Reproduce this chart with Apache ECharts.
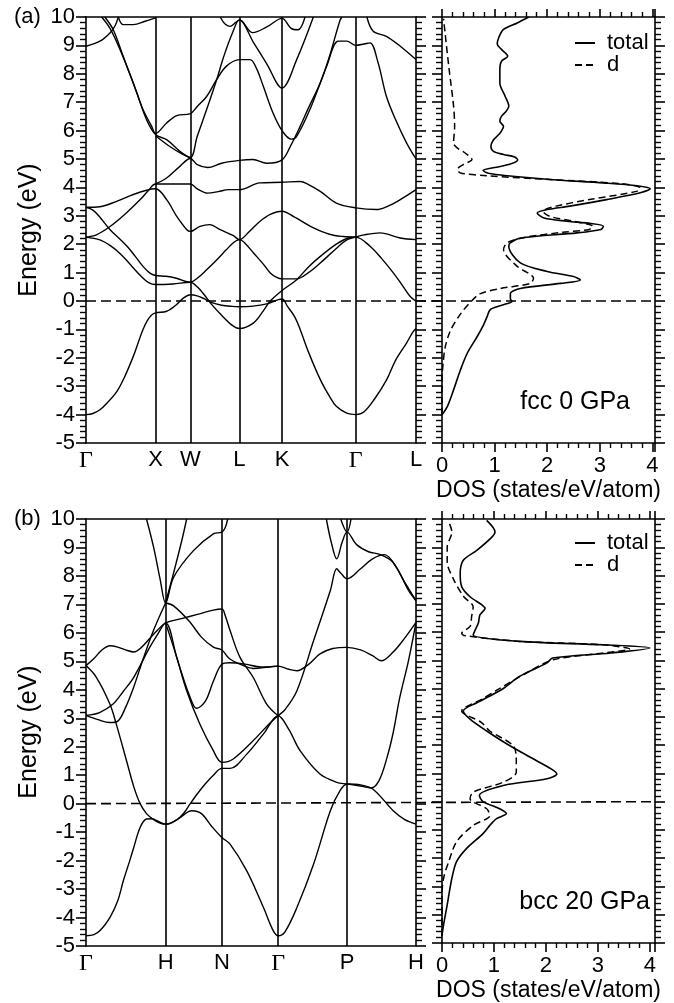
<!DOCTYPE html>
<html><head><meta charset="utf-8">
<script src="https://cdn.jsdelivr.net/npm/echarts@6/dist/echarts.min.js"></script>
<style>html,body{margin:0;padding:0;background:#fff}#c{width:674px;height:1003px}</style>
</head><body><div id="c"></div>
<script>
// ---------------- DATA ----------------
const fccTicks = [0, 1, 1.5, 2.2071, 2.8195, 3.8802, 4.7462];
const fccTickLabels = ['Γ','X','W','L','K','Γ','L'];
const bccTicks = [0, 1, 1.7071, 2.4142, 3.2802, 4.1463];
const bccTickLabels = ['Γ','H','N','Γ','P','H'];
const energyTicks = [-5,-4,-3,-2,-1,0,1,2,3,4,5,6,7,8,9,10];
const dosTicks = [0,1,2,3,4];

// fcc bands: [k, E]
const fccBand1 = [[0,-4.0],[0.1,-3.96],[0.2,-3.83],[0.3,-3.6],[0.44,-3.2],[0.55,-2.7],[0.68,-1.95],[0.76,-1.4],[0.82,-1.0],[0.88,-0.7],[0.94,-0.5],[1,-0.42],[1.16,-0.36],[1.3,-0.13],[1.4,0.1],[1.5,0.22],[1.6,0.18],[1.7,0.08],[1.8,-0.05],[1.95,-0.15],[2.1,-0.19],[2.2071,-0.2],[2.4,-0.18],[2.6,-0.1],[2.8195,0.07],[2.9,-0.2],[3.0,-0.55],[3.08,-1.0],[3.2,-1.8],[3.37,-2.77],[3.5,-3.35],[3.6,-3.71],[3.75,-3.95],[3.8802,-4.0],[4.0,-3.9],[4.15,-3.45],[4.325,-2.77],[4.45,-2.1],[4.61,-1.48],[4.7,-1.1],[4.7462,-0.97]];
const fccBand2 = [[0,2.25],[0.2,2.15],[0.35,1.95],[0.5,1.65],[0.65,1.25],[0.8,0.85],[0.9,0.65],[1,0.58],[1.25,0.6],[1.5,0.66],[1.6,0.5],[1.7,0.22],[1.8,-0.1],[1.95,-0.5],[2.1,-0.85],[2.2071,-0.97],[2.41,-0.77],[2.55,-0.35],[2.65,0.0],[2.8195,0.37],[3.03,0.75],[3.2,1.2],[3.37,1.57],[3.6,2.0],[3.75,2.2],[3.8802,2.25],[4.085,1.93],[4.25,1.5],[4.42,0.99],[4.55,0.55],[4.66,0.17],[4.7462,-0.01]];
const fccBand3 = [[0,3.3],[0.1,3.2],[0.2,2.95],[0.35,2.5],[0.5,2.15],[0.6,1.9],[0.7,1.6],[0.82,1.22],[0.92,0.98],[1,0.9],[1.15,0.87],[1.3,0.8],[1.5,0.66],[1.6,0.8],[1.735,1.1],[1.9,1.5],[2.02,1.81],[2.12,2.05],[2.2071,2.16],[2.3,2.0],[2.41,1.69],[2.55,1.3],[2.65,0.99],[2.75,0.82],[2.8195,0.78],[3.03,0.78],[3.2,1.0],[3.37,1.34],[3.6,1.85],[3.75,2.15],[3.8802,2.25],[4.0,2.33],[4.23,2.4],[4.52,2.22],[4.7462,2.16]];
const fccBand4 = [[0,2.25],[0.15,2.33],[0.35,2.63],[0.58,3.1],[0.78,3.57],[0.9,3.9],[1,4.12],[1.25,4.12],[1.5,4.12],[1.6,3.95],[1.75,3.8],[1.9,3.85],[2.05,3.92],[2.2071,3.92],[2.5,4.16],[2.8195,4.18],[3.08,4.21],[3.2,4.1],[3.37,3.86],[3.6,3.45],[3.8802,3.28],[4.18,3.22],[4.35,3.35],[4.52,3.57],[4.7462,3.92]];
const fccBand5 = [[0,3.3],[0.2,3.32],[0.44,3.51],[0.68,3.75],[0.87,3.9],[1,3.95],[1.16,3.57],[1.305,2.98],[1.45,2.51],[1.5,2.45],[1.64,2.63],[1.78,2.69],[1.93,2.51],[2.12,2.3],[2.2071,2.16],[2.35,2.45],[2.5,2.8],[2.65,3.05],[2.8195,3.16],[3.0,2.95],[3.25,2.6],[3.5,2.35],[3.7,2.27],[3.8802,2.25]];
const fccBand6 = [[1,4.12],[1.16,4.33],[1.35,4.74],[1.5,5.02],[1.6,4.8],[1.75,4.7],[1.95,4.85],[2.2071,4.95],[2.4,4.98],[2.6,4.85],[2.8195,4.97],[2.95,5.5],[3.08,6.15],[3.2,6.8],[3.37,7.68],[3.5,8.6],[3.65,9.86],[3.68,10]];
const fccBand7 = [[0.225,10],[0.345,9.6],[0.49,8.85],[0.68,7.68],[0.82,6.74],[0.945,6.15],[1,5.9],[1.16,6.27],[1.305,6.53],[1.5,6.6],[1.6,6.85],[1.735,7.2],[1.88,7.8],[2.02,8.27],[2.2071,8.5],[2.36,8.5],[2.45,8.2],[2.55,7.56],[2.69,6.62],[2.8195,6.0],[2.95,5.7],[3.03,5.8],[3.22,6.74],[3.46,8.26],[3.63,9.15],[3.75,9.15],[3.8802,9.0],[4.0,9.05],[4.085,9.09],[4.2,8.4],[4.32,7.21],[4.45,6.4],[4.61,5.57],[4.7462,5.0]];
const fccBand8 = [[0.27,10],[0.39,9.56],[0.535,8.62],[0.73,7.33],[0.87,6.39],[1,5.86],[1.16,5.68],[1.35,5.27],[1.5,5.05],[1.6,5.8],[1.735,6.74],[1.88,7.8],[1.98,8.6],[2.1,9.4],[2.2071,9.9],[2.41,9.1],[2.6,8.35],[2.8195,7.5],[3.03,8.5],[3.27,10]];
const fccBand9 = [[1,5.82],[1.2,5.45],[1.38,5.18],[1.5,5.05]];
const fccBand10 = [[0,8.97],[0.2,9.15],[0.345,9.44],[0.42,9.7],[0.465,10]];
const fccBand11 = [[0.465,10],[0.535,9.73],[0.68,9.73],[0.85,9.85],[1,9.97]];
const fccBand12 = [[1.93,10],[2.0,9.75],[2.07,9.67],[2.15,9.8],[2.2071,9.9],[2.4,9.45],[2.6,9.65],[2.8195,9.95],[2.95,9.6],[3.05,9.55],[3.15,10]];
const fccBand13 = [[4.04,10],[4.13,9.5],[4.32,9.32],[4.52,8.97],[4.7462,8.5]];

// bcc bands: [k, E]
const bccBand1 = [[0,-4.64],[0.1,-4.6],[0.18,-4.45],[0.3,-4.0],[0.4,-3.4],[0.47,-2.7],[0.55,-2.0],[0.6,-1.54],[0.68,-0.84],[0.76,-0.54],[0.83,-0.53],[0.89,-0.6],[1.0,-0.72],[1.15,-0.55],[1.33,-0.25],[1.45,-0.35],[1.58,-0.8],[1.7071,-1.19],[1.81,-1.42],[2.02,-2.36],[2.23,-3.65],[2.35,-4.45],[2.4142,-4.64],[2.5,-4.5],[2.65,-3.65],[2.86,-2.12],[3.07,-0.25],[3.19,0.45],[3.2802,0.69],[3.45,0.66],[3.61,0.5],[3.86,-0.25],[4.0,-0.55],[4.1463,-0.72]];
const bccBand2 = [[0,4.85],[0.13,4.44],[0.3,3.5],[0.385,2.75],[0.51,1.5],[0.6,0.6],[0.68,0.0],[0.76,-0.35],[0.85,-0.56],[0.93,-0.68],[1.0,-0.72],[1.07,-0.68],[1.15,-0.55],[1.23,-0.33],[1.31,0.0],[1.4,0.35],[1.5,0.7],[1.6,1.0],[1.7071,1.24],[1.81,1.24],[2.02,1.74],[2.23,2.45],[2.4142,3.09],[2.55,2.6],[2.69,1.86],[2.94,1.04],[3.15,0.75],[3.2802,0.69],[3.45,0.62],[3.58,0.55],[3.68,0.8],[3.78,1.6],[3.86,2.5],[3.94,3.7],[4.05,5.0],[4.1463,6.37]];
const bccBand3 = [[0,3.1],[0.15,2.95],[0.3,2.85],[0.4,2.9],[0.5,3.4],[0.6,4.1],[0.72,5.1],[0.85,6.1],[1.0,7.05]];
const bccBand4 = [[0,3.1],[0.17,3.2],[0.34,3.5],[0.47,3.95],[0.6,4.44],[0.8,5.49],[0.9,5.95],[1.0,6.35],[1.14,5.14],[1.265,3.97],[1.43,2.8],[1.6,1.86],[1.7071,1.45],[1.85,1.57],[2.1,2.21],[2.3,2.8],[2.4142,3.09],[2.5,3.3],[2.65,3.97],[2.86,5.73],[3.07,7.49],[3.15,8.25],[3.2,8.1],[3.2802,7.9],[3.45,8.25],[3.6,8.6],[3.75,8.75],[3.9,8.3],[4.05,7.5],[4.1463,7.13]];
const bccBand5 = [[0,4.85],[0.1,5.1],[0.2,5.4],[0.3,5.55],[0.4,5.5],[0.52,5.38],[0.6,5.33],[0.7,5.5],[0.8,5.8],[0.9,6.1],[1.0,6.35],[1.2,6.5],[1.4,6.65],[1.6,6.8],[1.7071,6.84],[1.75,6.6],[1.81,6.08],[1.935,5.14],[2.1,4.44],[2.27,3.5],[2.4142,3.09]];
const bccBand6 = [[1.0,7.05],[1.1,6.95],[1.3,6.4],[1.45,5.85],[1.6,5.5],[1.7071,5.4],[1.8,5.1],[1.935,4.9],[2.1,4.75],[2.3,4.8],[2.4142,4.83],[2.55,4.72],[2.65,4.67],[2.8,4.9],[2.94,5.26],[3.1,5.45],[3.2802,5.49],[3.45,5.4],[3.6,5.2],[3.71,5.02],[3.85,5.3],[4.0,5.8],[4.1463,6.37]];
const bccBand7 = [[1.0,6.35],[1.1,5.5],[1.2,4.6],[1.3,3.8],[1.39,3.35],[1.5,3.6],[1.6,4.3],[1.7071,4.9],[1.8,4.95],[2.0,4.9],[2.2,4.8],[2.4142,4.83]];
const bccBand8 = [[0.76,10],[0.85,9.0],[0.93,7.9],[1.0,7.05],[1.1,7.95],[1.35,8.89],[1.6,9.48],[1.7071,9.54],[1.75,9.7],[1.78,10]];
const bccBand9 = [[1.0,7.05],[1.1,8.1],[1.2,9.2],[1.265,10]];
const bccBand10 = [[3.02,10],[3.08,9.2],[3.15,8.6],[3.22,9.2],[3.2802,9.54],[3.4,9.1],[3.55,8.85],[3.7,8.75],[3.85,8.5],[4.0,7.8],[4.1463,7.13]];
const bccBand11 = [[3.2,10],[3.2802,9.54],[3.33,10]];

// DOS: [states/eV/atom, E]
const fccDosTotal = [[0,-4.01],[0.10,-3.72],[0.22,-3.13],[0.35,-2.43],[0.48,-1.84],[0.67,-1.25],[0.79,-0.84],[0.86,-0.54],[0.92,-0.3],[1.17,-0.13],[1.33,-0.02],[1.30,0.08],[1.30,0.26],[1.49,0.44],[2.25,0.62],[2.63,0.74],[2.5,0.86],[2.0,1.04],[1.49,1.34],[1.27,1.93],[1.30,2.05],[1.5,2.22],[2.57,2.4],[3.02,2.52],[3.07,2.63],[2.83,2.73],[2.38,2.81],[1.94,2.92],[1.81,3.1],[2.0,3.22],[2.43,3.34],[3.13,3.57],[3.77,3.81],[3.96,3.95],[3.71,4.06],[3.07,4.16],[2.12,4.27],[1.24,4.41],[0.88,4.5],[0.78,4.6],[1.0,4.7],[1.3,4.82],[1.44,4.97],[1.38,5.07],[1.17,5.16],[0.98,5.27],[0.93,5.45],[0.98,5.68],[1.08,5.86],[1.13,5.98],[1.17,6.15],[1.10,6.33],[1.13,6.5],[1.22,6.68],[1.27,6.86],[1.20,7.21],[1.10,7.68],[1.10,8.15],[1.13,8.44],[1.25,8.62],[1.13,8.86],[1.05,9.05],[1.08,9.28],[1.17,9.56],[1.43,9.79],[1.65,10.0]];
const fccDosD = [[0,-4.0],[0,-2.8],[0.02,-2.22],[0.06,-1.63],[0.16,-1.04],[0.35,-0.46],[0.54,-0.04],[0.73,0.26],[1.11,0.44],[1.68,0.62],[1.74,0.8],[1.43,1.22],[1.17,1.81],[1.24,2.05],[1.6,2.25],[2.3,2.42],[2.8,2.52],[2.87,2.63],[2.49,2.81],[2.05,2.98],[1.92,3.16],[2.17,3.34],[2.8,3.57],[3.70,3.86],[3.77,3.98],[3.4,4.13],[2.1,4.27],[0.86,4.41],[0.35,4.51],[0.29,4.63],[0.41,4.81],[0.57,4.98],[0.44,5.21],[0.29,5.39],[0.22,5.56],[0.24,6.15],[0.22,6.86],[0.13,8.24],[0.06,9.41],[0.03,9.94]];
const bccDosTotal = [[0,-4.75],[0.02,-4.47],[0.1,-3.65],[0.19,-2.71],[0.28,-2.12],[0.47,-1.66],[0.79,-1.13],[0.92,-0.84],[1.05,-0.6],[1.24,-0.42],[1.11,-0.25],[0.79,0],[0.72,0.22],[1.18,0.57],[2.02,0.81],[2.21,0.98],[2.1,1.16],[1.7,1.57],[1.25,2.04],[0.86,2.5],[0.54,2.92],[0.41,3.21],[0.67,3.5],[1.15,3.97],[1.5,4.44],[2.02,4.91],[2.13,5.08],[3.25,5.26],[4.0,5.44],[3.1,5.55],[1.5,5.67],[0.6,5.9],[0.64,6.08],[0.70,6.32],[0.73,6.61],[0.83,6.84],[0.77,6.96],[0.54,7.25],[0.38,7.6],[0.35,8.07],[0.41,8.54],[0.67,8.89],[0.96,9.36],[1.02,9.54],[0.86,9.95]];
const bccDosD = [[0,-4.75],[0,-3.3],[0.03,-2.71],[0.13,-2.12],[0.28,-1.42],[0.6,-0.84],[0.92,-0.49],[0.86,-0.25],[0.54,0.1],[0.6,0.34],[1.18,0.69],[1.43,1.04],[1.43,1.51],[1.37,1.98],[0.92,2.5],[0.76,2.8],[0.38,3.21],[0.76,3.62],[1.08,3.97],[1.63,4.56],[2.14,5.02],[3.1,5.26],[3.61,5.4],[3.1,5.55],[1.5,5.67],[0.42,5.88],[0.38,5.96],[0.54,6.2],[0.57,6.55],[0.6,6.9],[0.42,7.25],[0.23,7.84],[0.1,8.48],[0.1,9.0],[0.19,9.54],[0.13,9.9]];

const fccBands = [fccBand1,fccBand2,fccBand3,fccBand4,fccBand5,fccBand6,fccBand7,fccBand8,fccBand9,fccBand10,fccBand11,fccBand12,fccBand13];
const bccBands = [bccBand1,bccBand2,bccBand3,bccBand4,bccBand5,bccBand6,bccBand7,bccBand8,bccBand9,bccBand10,bccBand11];

// ---------------- CHART ----------------
const FONT = 'Liberation Sans, Arial, Helvetica, sans-serif';
const chart = echarts.init(document.getElementById('c'), null, {renderer:'canvas'});
const AX = {color:'#000', width:1.6};

function bandX(grid, ticks, labels, max){
  return [
    {gridIndex:grid, type:'value', min:0, max:max, position:'bottom',
     axisLine:{show:true, onZero:false, lineStyle:AX}, axisTick:{show:false}, splitLine:{show:false},
     axisLabel:{show:true, customValues:ticks, margin:6, color:'#000', fontSize:22, fontFamily:FONT,
       formatter:(v)=>{ let i=0,b=1e9; ticks.forEach((t,j)=>{ if(Math.abs(t-v)<b){b=Math.abs(t-v);i=j;} }); const s=labels[i]; return s==='Γ' ? '{g|Γ}' : s; },
       rich:{g:{fontFamily:'Liberation Serif, DejaVu Serif, serif', fontSize:24, color:'#000'}}}},
    {gridIndex:grid, type:'value', min:0, max:max, position:'top',
     axisLine:{show:true, onZero:false, lineStyle:AX}, axisTick:{show:false}, axisLabel:{show:false}, splitLine:{show:false}}
  ];
}
function dosX(grid, max){
  const base = {gridIndex:grid, type:'value', min:0, max:max, interval:1,
    axisLine:{show:true, onZero:false, lineStyle:AX}, splitLine:{show:false},
    axisTick:{show:true, inside:false, length:9, lineStyle:AX},
    minorTick:{show:true, splitNumber:5, length:5, lineStyle:{color:'#000', width:1.4}}};
  return [
    Object.assign({}, base, {position:'bottom', axisLabel:{show:true, showMaxLabel:false, margin:12, color:'#000', fontSize:22, fontFamily:FONT},
      name:'DOS (states/eV/atom)', nameLocation:'middle', nameGap:36, nameTextStyle:{color:'#000', fontSize:23, fontFamily:FONT}}),
    Object.assign({}, base, {position:'top', axisTick:{show:true, inside:false, length:8, lineStyle:AX}, axisLabel:{show:false}})
  ];
}
function yAxes(grid, showLabel){
  const base = {gridIndex:grid, type:'value', min:-5, max:10, interval:1,
    axisLine:{show:true, onZero:false, lineStyle:AX}, splitLine:{show:false},
    axisTick:{show:true, inside:false, length:10, lineStyle:AX},
    minorTick:{show:true, splitNumber:5, length:6, lineStyle:{color:'#000', width:1.4}}};
  return [
    Object.assign({}, base, {position:'left', axisLabel:{show:showLabel, margin:11, color:'#000', fontSize:22, fontFamily:FONT}}),
    Object.assign({}, base, {position:'right', axisLabel:{show:false}})
  ];
}

const xAxis = [].concat(
  bandX(0, fccTicks, fccTickLabels, fccTicks[fccTicks.length-1]),
  dosX(1, 4.05),
  bandX(2, bccTicks, bccTickLabels, bccTicks[bccTicks.length-1]),
  dosX(3, 4.1)
);
const yAxis = [].concat(yAxes(0,true), yAxes(1,false), yAxes(2,true), yAxes(3,false));

const series = [];
function addBands(bands, xi, yi, ticks){
  bands.forEach((b, i)=>{
    const s = {type:'line', xAxisIndex:xi, yAxisIndex:yi, data:b, smooth:0.35, symbol:'none', silent:true,
      lineStyle:{color:'#000', width:1.4}, z:3, animation:false};
    if(i===0){
      s.markLine = {silent:true, symbol:['none','none'], label:{show:false}, animation:false,
        lineStyle:{color:'#000', width:1.6, type:'solid'},
        data: ticks.slice(1,-1).map(v=>({xAxis:v}))};
    }
    series.push(s);
  });
}
addBands(fccBands, 0, 0, fccTicks);
addBands(bccBands, 4, 4, bccTicks);
function addDos(total, d, xi, yi){
  series.push({name:'total', type:'line', xAxisIndex:xi, yAxisIndex:yi, data:total, smooth:0.3, symbol:'none', silent:true,
    lineStyle:{color:'#000', width:1.6, type:'solid'}, itemStyle:{color:'#000'}, animation:false});
  series.push({name:'d', type:'line', xAxisIndex:xi, yAxisIndex:yi, data:d, smooth:0.3, symbol:'none', silent:true,
    lineStyle:{color:'#000', width:1.5, type:[7,4]}, itemStyle:{color:'#000'}, animation:false});
}
addDos(fccDosTotal, fccDosD, 2, 2);
addDos(bccDosTotal, bccDosD, 6, 6);

const legendBase = {orient:'vertical', itemWidth:20, itemHeight:12, itemGap:0, padding:0, selectedMode:false,
  itemStyle:{color:'rgba(0,0,0,0)', borderWidth:0, opacity:0},
  textStyle:{color:'#000', fontSize:22, lineHeight:20, fontFamily:FONT, padding:[0,0,0,7]}, data:['total','d']};

chart.setOption({
  animation:false,
  backgroundColor:'#fff',
  grid:[
    {left:86, top:17, width:330, height:426},
    {left:442, top:17, width:213, height:426},
    {left:86, top:519, width:330, height:427},
    {left:442, top:519, width:213, height:427}
  ],
  legend:[
    Object.assign({}, legendBase, {left:574, top:32}),
    Object.assign({}, legendBase, {left:574, top:532})
  ],
  xAxis, yAxis, series
});

// overlay: zero-energy dashed line spanning both panels, and panel texts
const g = [];
[[0,2,4.05,[29,230],'(a)',17,'fcc 0 GPa',630,402],[4,6,4.1,[29,732],'(b)',519,'bcc 20 GPa',650,902]].forEach(([bx,dx,dmax,epos,tag,ty,lab,lx,ly])=>{
  const p0 = chart.convertToPixel({xAxisIndex:bx, yAxisIndex:bx}, [0,0]);
  const p1 = chart.convertToPixel({xAxisIndex:dx, yAxisIndex:dx}, [dmax,0]);
  g.push({type:'line', shape:{x1:p0[0], y1:p0[1], x2:p1[0], y2:p1[1]}, style:{stroke:'#000', lineWidth:1.6, lineDash:[10,5]}, z:10});
  g.push({type:'text', x:epos[0], y:epos[1], rotation:Math.PI/2, style:{text:'Energy (eV)', font:'25px '+FONT, fill:'#000', align:'center', verticalAlign:'middle'}});
  g.push({type:'text', x:14, y:ty, style:{text:tag, font:'22px '+FONT, fill:'#000', align:'left', verticalAlign:'middle'}});
  g.push({type:'text', x:lx, y:ly, style:{text:lab, font:'25px '+FONT, fill:'#000', align:'right', verticalAlign:'middle'}});
});
chart.setOption({graphic:{elements:g}});
</script>
</body></html>
